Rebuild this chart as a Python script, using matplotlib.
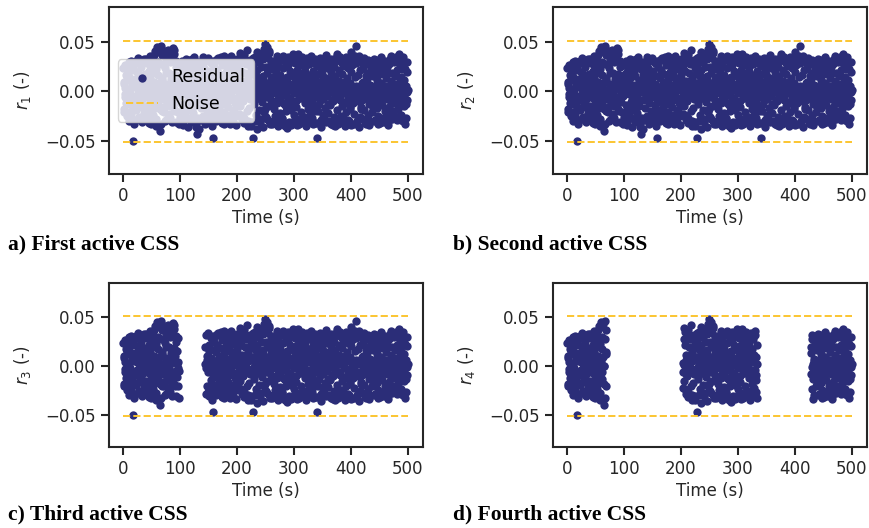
import numpy as np
import matplotlib
matplotlib.use("Agg")
import matplotlib.pyplot as plt

# ---------------- data ----------------
# residual values in thousandths at whole seconds t = 0, 1, ..., 500
residual_whole_milli = [
    24, -18, 8, -3, 27, -12, 15, -25, 2, 19, -8, 30, -21, 11, -5, 22, -14, 6, -50, 28,
    -29, 13, -9, 31, 4, -17, 20, -2, -26, 9, 16, -11, 25, -31, 1, 12, -22, 33, -6, 18,
    -15, 29, -27, 7, -1, 21, -19, 14, -33, 3, 26, -10, 32, -24, 10, 41, -7, 23, -28, 5,
    45, -13, 17, -35, 0, -40, 28, 46, -20, 12, -4, 39, -16, 24, -30, 8, 34, -9, 42, -23,
    19, -2, 30, -27, 13, 40, -12, 6, 44, -18, 38, -8, 25, -31, 2, 15, -21, 29, -5, 11,
    -26, 18, 4, -14, 31, -30, 9, 22, -3, -24, 14, 33, -11, 27, -36, 7, -19, 20, -1, -29,
    16, -7, 26, -22, 35, 1, -15, 12, -33, 23, -43, 5, -27, 30, -9, 19, -17, 8, 28, -4,
    -25, 13, 24, -12, 2, -29, 32, -20, 10, -6, 21, -31, 17, -2, 29, -14, 6, -23, -47, 25,
    -11, 31, -28, 14, 0, 22, -18, 34, -7, 9, -26, 18, 3, -32, 27, -13, 11, -21, 36, -3,
    20, -30, 7, 25, -16, 33, -9, 15, -24, 29, -1, 12, -28, 4, 23, -19, 31, -12, 8, -34,
    17, -6, 26, -23, 3, 39, -15, 21, -29, 11, 30, -10, 5, -27, 19, -4, 28, -20, 42, -35,
    14, -17, 32, -8, 24, -31, 9, 18, -47, 27, -13, 3, 35, -24, 16, -38, 22, -2, 30, -19,
    37, 7, -28, 25, -11, 33, 12, -21, 43, 2, 48, -26, 19, -6, 34, -15, 41, -30, 10, 28,
    -9, 23, -33, 15, 5, -18, 31, -25, 20, -2, 36, -12, 26, -29, 8, 17, -22, 33, -5, 12,
    -27, 24, 1, 35, -14, -35, 29, -20, 11, -8, 27, -31, 6, 21, -17, -34, 32, -11, 16, 37,
    -24, 9, 30, -16, 3, -28, 22, 14, 38, -33, 19, -7, 27, -21, 10, -1, 31, -26, 13, -12,
    25, -30, 6, 34, -18, 17, -4, 28, -23, 11, 32, -9, -27, 21, 2, -15, 29, -32, 15, -6,
    -47, 26, -20, 10, 33, -13, 4, -29, 23, 18, -8, 30, -24, 7, -17, 27, -31, 14, -2, 24,
    -22, 12, 31, -14, 1, -33, 20, 29, -10, 8, -26, 25, -35, 16, 34, 36, -19, 5, -28, 22,
    11, -7, 30, -25, 18, -15, 28, -32, 3, 26, -11, 35, -21, 14, -3, 24, -29, 9, 31, -18,
    20, -34, 6, 27, -12, 33, -23, 15, -5, 29, 46, -30, 17, -9, 36, 2, -26, 22, -16, 32,
    -28, 10, 25, -19, 4, 31, -7, -33, 19, 13, -24, 28, -13, 7, -30, 23, 30, -2, -21, 16,
    27, -11, 3, -29, 21, 32, -17, 12, -25, 26, -4, 18, -32, 9, 29, -14, 24, -27, 1, 20,
    -20, 31, 14, -8, 25, -31, 6, 28, -16, 33, -23, 11, -28, 19, 2, -12, 30, -26, 17, -5,
    35, -29, 22, -18, 9, 38, -10, 26, -24, 15, -3, 29, -30, 12, -15, 23, 4, -27, 20, -9,
    2,
]
# residual values in thousandths at half seconds t = 0.5, 1.5, ..., 499.5
residual_half_milli = [
    -21, 10, 4, -6, -7, 17, 3, 26, -13, -30, 1, -2, 14, -24, 31, 7, -17, 25, -9, -33,
    12, 5, -19, -4, 20, -28, 34, -10, 5, -3, 30, 1, -16, 8, -7, -29, 16, 9, -1, 33,
    -3, -20, 6, 13, -32, 28, -8, 36, -4, 18, -14, 5, -30, 27, 37, -17, 2, -35, 40, -1,
    30, -6, 9, 43, -18, 0, -33, 14, 37, -8, 28, -21, 3, 41, -29, 19, -12, 7, -4, 38,
    -24, 2, -15, 7, 35, -31, 6, -6, 18, 42, -20, 10, -5, 31, -11, 4, -2, -33, 16, 27,
    8, -21, 29, -2, 20, -34, 4, 1, 30, -18, 5, -27, 4, -9, 32, -3, 17, -5, 28, -31,
    -14, 33, -3, 1, -26, 10, 31, -36, 6, -9, 27, -1, -38, 18, 2, -29, 4, 13, -7, 35,
    9, -6, 30, -33, 19, -2, 6, 4, -27, 34, -3, 15, -24, 8, 7, -35, 2, -9, 31, -19,
    5, -5, -30, 17, 33, -20, 1, -28, 3, 2, -14, 35, -5, 8, 29, -1, -33, 0, 14, -7,
    -27, 32, 6, -2, 24, -8, 18, -33, 0, 36, -6, 7, -19, -31, 5, 30, -10, 1, -25, 4,
    33, -9, 12, -6, 28, 1, -24, 35, 6, -8, 2, -32, 37, -4, 7, 29, -1, 11, -30, 5,
    -4, 31, -6, 9, 6, -35, 27, -2, 34, -10, 9, -30, 4, -3, 40, 14, -7, 33, -5, 1,
    -31, 8, -8, 38, -4, 16, -36, 0, 3, -18, 25, -2, 45, -28, 6, 39, -6, 3, -33, 13,
    31, -2, 7, -15, 9, -30, 8, 2, -25, 34, -9, 2, -35, 12, 7, -8, 32, -4, -28, 9,
    36, -12, 4, -32, 9, 28, -3, 15, -37, 1, 35, -7, -7, 30, 5, -19, 6, -33, 38, -2,
    4, -28, 29, -10, 3, -34, 7, 32, -7, 6, -3, -31, 8, 35, -2, 11, -26, 0, -8, 20,
    -35, 7, 13, -9, 31, -5, -29, 4, 8, -4, 36, -14, 9, -33, 8, 3, -20, 33, -1, 2,
    10, -32, 6, -7, 18, 34, -3, 1, -36, 9, 15, -8, 32, -28, 1, -4, 37, -5, 12, -13,
    28, -30, 7, 6, -1, 33, -9, 4, -34, 14, 30, -5, -2, 6, -27, 38, 9, -33, 2, -6,
    35, -9, 3, -31, 7, 2, -26, 31, -2, 10, -35, 5, 8, -12, 34, -9, 6, -30, 9, -16,
    40, -5, 1, -11, 30, -33, 1, 36, -10, 6, -6, 33, -8, 5, -36, 4, 4, -18, 31, -9,
    9, -3, 34, -4, 7, -31, 8, 16, -8, 32, -1, 2, -34, 5, -2, 30, -6, 0, 3, -17,
    33, -30, 4, -10, 7, -2, 31, -3, -33, 2, 9, -9, 35, -7, 7, -6, 29, -4, -31, 4,
    6, -25, 2, -6, 19, -34, 5, 2, -3, 30, -11, 36, -10, 3, 7, -20, 8, 34, -6, 16,
    -8, 31, -2, 1, -14, 8, 4, -29, 3, -9, 23, -5, 35, -4, 1, -33, 6, -13, 30, -1,
]
time_whole = np.arange(len(residual_whole_milli)) * 1.0
time_half = np.arange(len(residual_half_milli)) + 0.5
time_s = np.concatenate([time_whole, time_half])
residual = np.concatenate([residual_whole_milli, residual_half_milli]) / 1000.0

noise_level = 0.051
noise_span = [0, 500]

# active time windows (s) for each CSS
active_windows = [
    [(0, 500)],
    [(0, 500)],
    [(0, 98), (144, 500)],
    [(0, 69), (203, 334), (428, 500)],
]
ylabels = [r"$r_1$ (-)", r"$r_2$ (-)", r"$r_3$ (-)", r"$r_4$ (-)"]
captions = ["a) First active CSS", "b) Second active CSS",
            "c) Third active CSS", "d) Fourth active CSS"]
xticks = [0, 100, 200, 300, 400, 500]
yticks = [-0.05, 0.0, 0.05]

# ---------------- style ----------------
W, H = 870, 528
dark = "#262626"
plt.rcParams.update({
    "font.family": ["DejaVu Sans"],
    "axes.edgecolor": dark,
    "axes.linewidth": 1.5,
    "xtick.color": dark,
    "ytick.color": dark,
    "xtick.labelcolor": dark,
    "ytick.labelcolor": dark,
    "xtick.major.size": 6,
    "ytick.major.size": 6,
    "xtick.major.width": 1.5,
    "ytick.major.width": 1.5,
    "xtick.labelsize": 12,
    "ytick.labelsize": 12,
    "axes.labelsize": 12,
    "axes.labelcolor": dark,
})

fig = plt.figure(figsize=(W / 100, H / 100), dpi=100)

# pixel boxes (left, top, right, bottom)
boxes = [
    (109, 7, 423, 174),
    (553, 7, 867, 174),
    (109, 283, 423, 447),
    (553, 283, 867, 447),
]
caption_pos = [(8, 249), (453, 249), (8, 519), (453, 519)]

dot_color = "#2b2d78"
noise_color = "#fbc531"

for i in range(4):
    l, t, r, b = boxes[i]
    ax = fig.add_axes([l / W, 1 - b / H, (r - l) / W, (b - t) / H])
    mask = np.zeros_like(time_s, dtype=bool)
    for (t0, t1) in active_windows[i]:
        mask |= (time_s >= t0) & (time_s <= t1)
    ax.scatter(time_s[mask], residual[mask], s=36, color=dot_color,
               linewidths=0, label="Residual")
    ax.plot(noise_span, [noise_level, noise_level], ls="--",
            lw=1.4, color=noise_color, label="Noise")
    ax.plot(noise_span, [-noise_level, -noise_level], ls="--",
            lw=1.4, color=noise_color)
    ax.set_xlim(-25, 527)
    ax.set_ylim(-0.083, 0.085)
    ax.set_xticks(xticks)
    ax.set_yticks(yticks)
    ax.set_yticklabels(["\u22120.05", "0.00", "0.05"])
    ax.set_xlabel("Time (s)", labelpad=3)
    ax.set_ylabel(ylabels[i], labelpad=9)
    ax.tick_params(direction="out")
    if i == 0:
        ax.legend(loc="center left", fontsize=12.5, framealpha=0.8,
                  handlelength=1.8, borderpad=0.5)
    cx, cy = caption_pos[i]
    fig.text(cx / W, 1 - cy / H, captions[i], family="Liberation Serif",
             weight="bold", fontsize=15.5, color="black", va="baseline")

fig.savefig("out.png", dpi=100)
